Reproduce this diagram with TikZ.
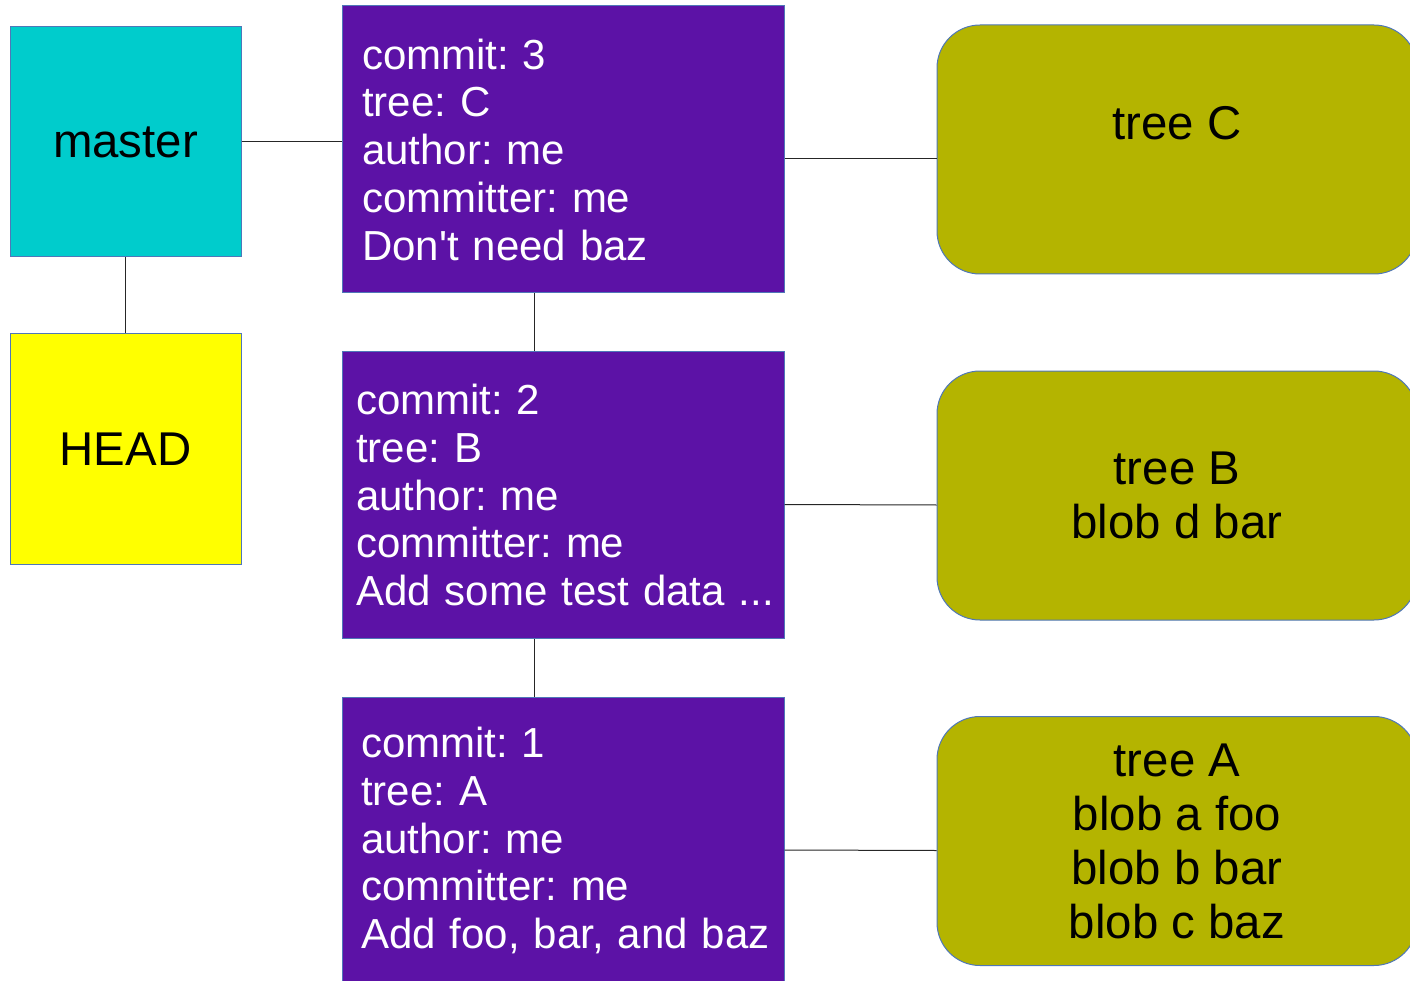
\documentclass[tikz,border=0pt]{standalone}
\usepackage{fontspec}
\setmainfont{Liberation Sans}
\frenchspacing

\definecolor{refcyan}{HTML}{00CCCC}
\definecolor{headyellow}{HTML}{FFFF00}
\definecolor{commitpurple}{HTML}{5C12A6}
\definecolor{treeolive}{HTML}{B4B400}
\definecolor{edgeblue}{HTML}{4F77B8}

\tikzset{
  refbox/.style={draw=edgeblue, line width=1pt, minimum width=231pt,
    minimum height=230pt, inner sep=0pt, text=black,
    font=\fontsize{47.4}{54}\selectfont},
  commitbox/.style={draw=edgeblue, line width=1pt, fill=commitpurple,
    text=white, align=left, inner ysep=0pt, minimum height=287pt,
    font=\fontsize{42}{47.75}\selectfont},
  treebox/.style={draw=edgeblue, line width=1pt, fill=treeolive,
    rounded corners=43pt, minimum width=480pt, minimum height=249pt,
    inner sep=0pt, align=center, text=black,
    font=\fontsize{47.4}{54}\selectfont},
  link/.style={draw=black!85, line width=1pt}
}

\begin{document}
\begin{tikzpicture}[x=1pt, y=-1pt]
  \useasboundingbox (0,0) rectangle (1410,981);
  \clip (0,0) rectangle (1410,981);

  % branch and HEAD references
  \node[refbox, fill=refcyan] (master) at (125.5,142) {master};
  \node[refbox, fill=headyellow] (head) at (125.5,449) {HEAD};

  % commit objects
  \node[commitbox, inner xsep=20pt, text width=402pt] (c3) at (563,149.5)
    {commit: 3\\tree: C\\author: me\\committer: me\\\mbox{Don\textquotesingle t need baz}};
  \node[commitbox, inner xsep=14pt, text width=414pt] (c2) at (563,495)
    {commit: 2\\tree: B\\author: me\\committer: me\\\mbox{Add some test data ...}};
  \node[commitbox, inner xsep=19pt, text width=404pt] (c1) at (563,840.5)
    {commit: 1\\tree: A\\author: me\\committer: me\\\mbox{Add foo, bar, and baz}};

  % tree objects
  \node[treebox] (tc) at (1177,149.5) {tree C\\\mbox{}};
  \node[treebox] (tb) at (1177,495.5) {tree B\\blob d bar};
  \node[treebox] (ta) at (1177,841) {tree A\\blob a foo\\blob b bar\\blob c baz};

  % connectors
  \draw[link] (master.east) -- (c3.west |- master.east);
  \draw[link] (master.south) -- (head.north);
  \draw[link] ([xshift=-29pt]c3.south) -- ([xshift=-29pt]c2.north);
  \draw[link] ([xshift=-29pt]c2.south) -- ([xshift=-29pt]c1.north);
  \draw[link] ([yshift=-9.5pt]c3.east) -- ([yshift=-9.5pt]tc.west);
  \draw[link] ([yshift=-9.5pt]c2.east) -- ([yshift=-9.5pt]tb.west);
  \draw[link] ([yshift=-9.5pt]c1.east) -- ([yshift=-9.5pt]ta.west);
\end{tikzpicture}
\end{document}
